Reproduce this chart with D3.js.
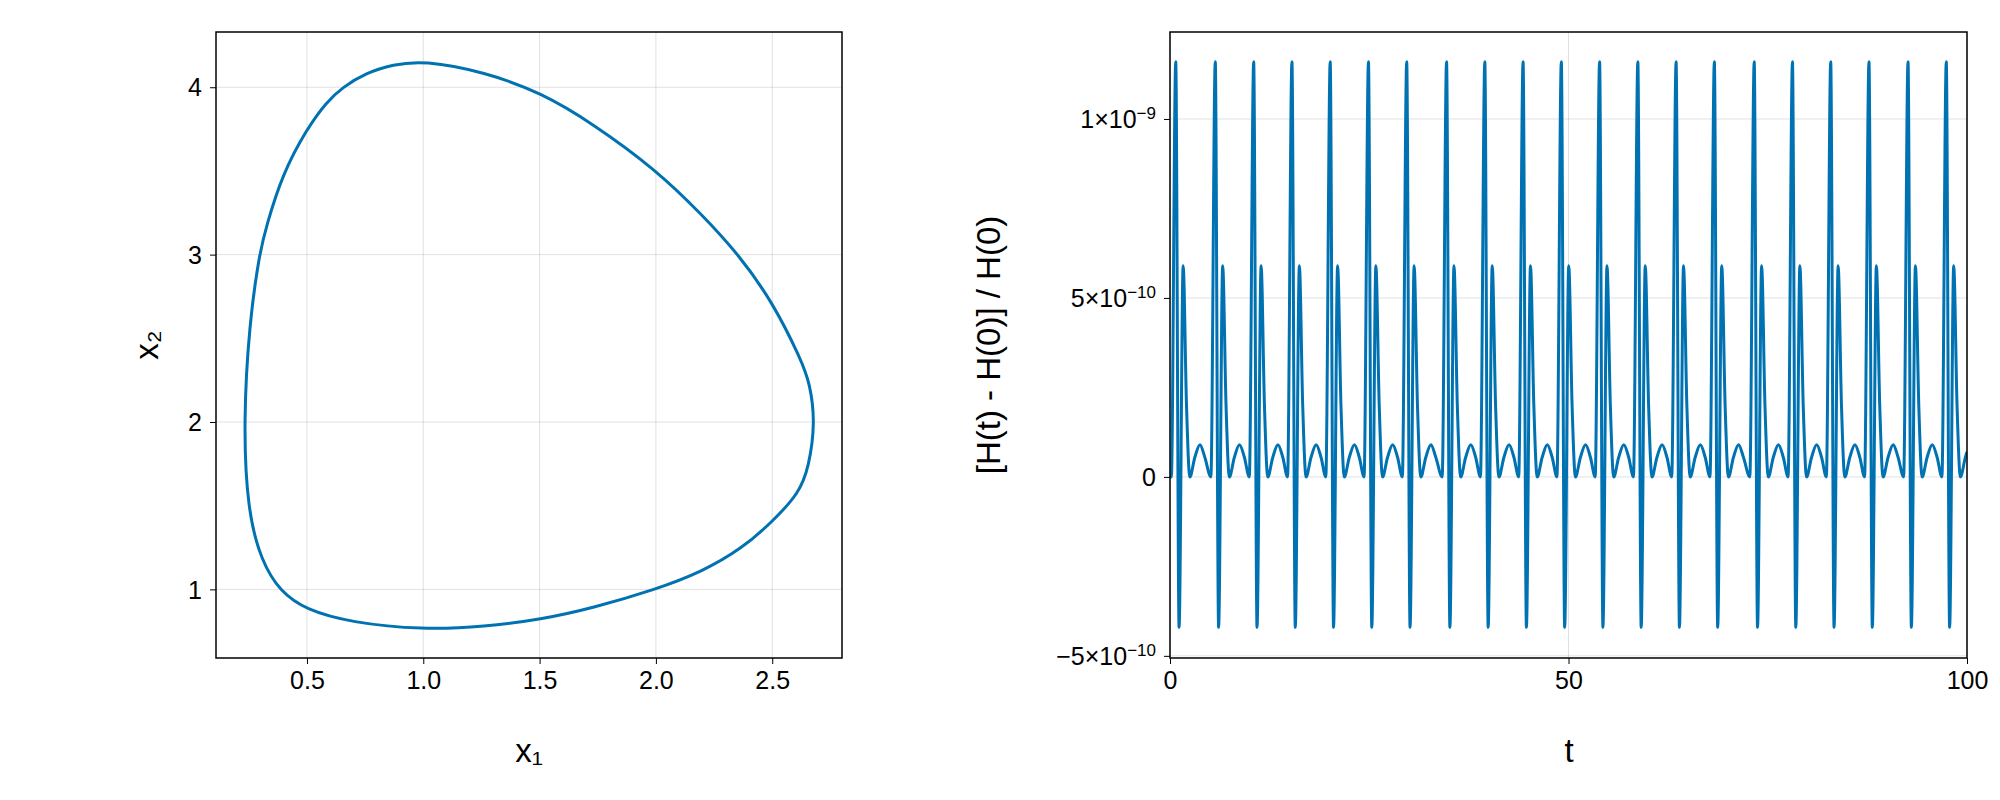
<!DOCTYPE html>
<html>
<head>
<meta charset="utf-8">
<script src="https://cdn.jsdelivr.net/npm/d3@7"></script>
<style>
  body { margin: 0; background: #fff; }
  text { font-family: "Liberation Sans", "DejaVu Sans", sans-serif; }
</style>
</head>
<body>
<svg id="fig" width="2000" height="800"></svg>
<script>
// phase portrait, points read along the closed orbit (x1, x2)
const orbitX1 = [1.0, 0.869, 0.754, 0.653, 0.583, 0.5, 0.395, 0.324, 0.295, 0.252, 0.227, 0.244, 0.304, 0.386, 0.496, 0.688,
                 0.998, 1.264, 1.509, 1.724, 2.0, 2.198, 2.371, 2.5, 2.615, 2.658, 2.685, 2.662, 2.626, 2.5,
                 2.356, 2.198, 2.0, 1.724, 1.509, 1.264]
const orbitX2 = [4.16, 4.135, 4.085, 4.0, 3.91, 3.752, 3.483, 3.164, 3.0, 2.588, 2.0, 1.472, 1.167, 0.985, 0.878, 0.802,
                 0.758, 0.777, 0.821, 0.887, 1.0, 1.105, 1.245, 1.404, 1.573, 1.732, 2.0, 2.229, 2.368, 2.721,
                 3.0, 3.239, 3.508, 3.787, 3.966, 4.091]

// energy error: times of the big spikes, and the shape around each spike (offset in t, value)
const spikeTimes = [0.72, 5.68, 10.5, 15.3, 20.1, 24.9, 29.7, 34.7, 39.5, 44.3, 49.1,
                    53.9, 58.7, 63.5, 68.3, 73.3, 78.1, 82.9, 87.7, 92.6, 97.4]
const shapeOffset = [-0.55, 0, 0.42, 0.93, 1.35, 1.77, 2.4, 3.04, 3.65]
const shapeValue = [0, 1.16e-9, -0.42e-9, 0.59e-9, 0.2e-9, 0, 0.055e-9, 0.09e-9, 0.055e-9]
const endPoint = { t: 100, v: 0.07e-9 }

const xTicksL = [0.5, 1.0, 1.5, 2.0, 2.5]
const yTicksL = [1, 2, 3, 4]
const xTicksR = [0, 50, 100]
const yTicksR = [-5e-10, 0, 5e-10, 1e-9]
const yTickLabelsR = [["\u22125\u00d710", "\u221210"], ["0", ""], ["5\u00d710", "\u221210"], ["1\u00d710", "\u22129"]]

const blue = '#0072B2'
const svg = d3.select('#fig')
const plotTop = 32, plotBottom = 658

function frame(g, x, y, xt, yt, xfmt, yLab) {
    const x0 = x.range()[0], x1 = x.range()[1]
    g.selectAll('.gx').data(xt).join('line')
        .attr('x1', d => x(d)).attr('x2', d => x(d)).attr('y1', plotTop).attr('y2', plotBottom)
        .attr('stroke', 'rgba(0,0,0,0.12)').attr('stroke-width', 1)
    g.selectAll('.gy').data(yt).join('line')
        .attr('y1', d => y(d)).attr('y2', d => y(d)).attr('x1', x0).attr('x2', x1)
        .attr('stroke', 'rgba(0,0,0,0.12)').attr('stroke-width', 1)
    const xAxis = d3.axisBottom(x).tickValues(xt).tickSize(6).tickPadding(7).tickFormat(xfmt)
    const gx = g.append('g').attr('transform', `translate(0, ${plotBottom})`).call(xAxis)
    gx.select('.domain').remove()
    gx.selectAll('text').style('font-size', '25px').attr('fill', '#000')
    const yAxis = d3.axisLeft(y).tickValues(yt).tickSize(6).tickPadding(8).tickFormat('')
    const gy = g.append('g').attr('transform', `translate(${x0}, 0)`).call(yAxis)
    gy.select('.domain').remove()
    gy.selectAll('.tick text').each(function (d, i) {
        const t = d3.select(this).style('font-size', '25px').attr('fill', '#000').attr('dy', '0.35em')
        const lab = yLab(d, i)
        t.append('tspan').text(lab[0])
        if (lab[1]) t.append('tspan').attr('dy', '-0.55em').style('font-size', '17px').text(lab[1])
    })
}

// left panel
const xL = d3.scaleLinear().domain([0.109, 2.80]).range([216, 842])
const yL = d3.scaleLinear().domain([0.59, 4.33]).range([plotBottom, plotTop])
const gL = svg.append('g')
frame(gL, xL, yL, xTicksL, yTicksL, d3.format('.1f'), d => [String(d), ''])
const orbit = orbitX1.map((v, i) => [v, orbitX2[i]])
gL.append('path').datum(orbit)
    .attr('d', d3.line().x(d => xL(d[0])).y(d => yL(d[1])).curve(d3.curveBasisClosed))
    .attr('fill', 'none').attr('stroke', blue).attr('stroke-width', 3)
gL.append('rect').attr('x', 216).attr('y', plotTop).attr('width', 626).attr('height', plotBottom - plotTop)
    .attr('fill', 'none').attr('stroke', '#000').attr('stroke-width', 1.5)
gL.append('text').attr('x', 529).attr('y', 762).attr('text-anchor', 'middle').style('font-size', '33px').text('x\u2081')
gL.append('text').attr('transform', 'translate(158, 345) rotate(-90)').attr('text-anchor', 'middle')
    .style('font-size', '33px').text('x\u2082')

// right panel
const xR = d3.scaleLinear().domain([0, 100]).range([1170, 1967])
const yR = d3.scaleLinear().domain([-0.506e-9, 1.243e-9]).range([plotBottom, plotTop])
const gR = svg.append('g')
frame(gR, xR, yR, xTicksR, yTicksR, d3.format('d'), (d, i) => yTickLabelsR[i])
const series = [{ t: 0, v: 0 }]
spikeTimes.forEach(s => {
    shapeOffset.forEach((o, k) => series.push({ t: s + o, v: shapeValue[k] }))
})
series.push(endPoint)
gR.append('clipPath').attr('id', 'clipR').append('rect')
    .attr('x', 1170).attr('y', plotTop).attr('width', 797).attr('height', plotBottom - plotTop)
gR.append('path').datum(series.filter(d => d.t >= 0 && d.t <= 100))
    .attr('clip-path', 'url(#clipR)')
    .attr('d', d3.line().x(d => xR(d.t)).y(d => yR(d.v)).curve(d3.curveMonotoneX))
    .attr('fill', 'none').attr('stroke', blue).attr('stroke-width', 3)
gR.append('rect').attr('x', 1170).attr('y', plotTop).attr('width', 797).attr('height', plotBottom - plotTop)
    .attr('fill', 'none').attr('stroke', '#000').attr('stroke-width', 1.5)
gR.append('text').attr('x', 1569).attr('y', 762).attr('text-anchor', 'middle').style('font-size', '33px').text('t')
gR.append('text').attr('transform', 'translate(1000, 345) rotate(-90)').attr('text-anchor', 'middle')
    .style('font-size', '33px').text('[H(t) - H(0)] / H(0)')
</script>
</body>
</html>
